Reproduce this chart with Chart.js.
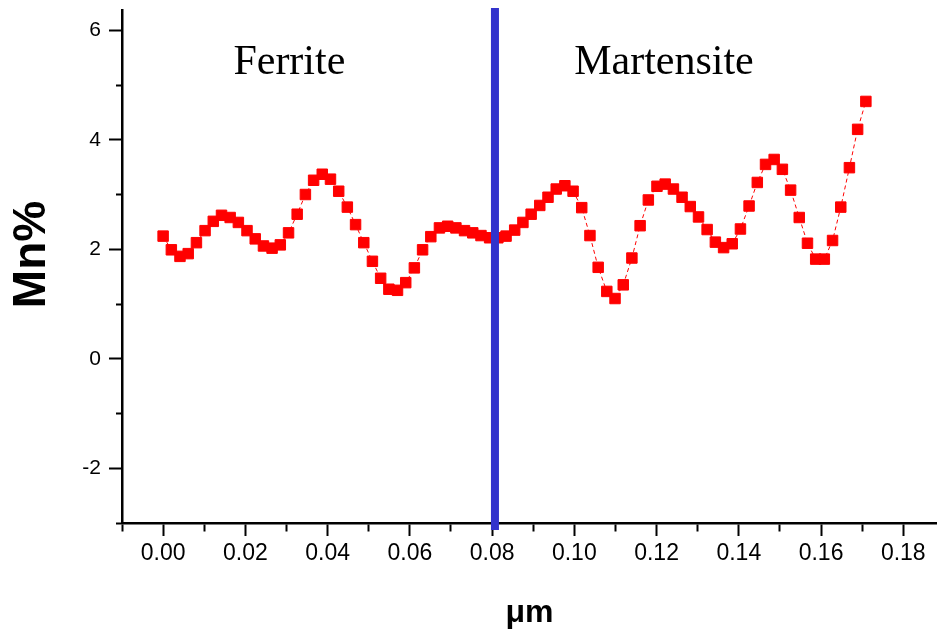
<!DOCTYPE html>
<html>
<head>
<meta charset="utf-8">
<script src="https://cdn.jsdelivr.net/npm/chart.js@4.4.1/dist/chart.umd.min.js"></script>
<style>
  html, body { margin: 0; padding: 0; background: #ffffff; }
  #wrap { width: 937px; height: 635px; }
</style>
</head>
<body>
<div id="wrap"><canvas id="c" width="937" height="635"></canvas></div>
<script>
// Mn concentration profile across the ferrite / martensite interface
const distanceUm = [
  0.0000, 0.0020, 0.0041, 0.0061, 0.0081, 0.0102, 0.0122, 0.0142, 0.0163, 0.0183,
  0.0204, 0.0224, 0.0244, 0.0265, 0.0285, 0.0305, 0.0326, 0.0346, 0.0366, 0.0387,
  0.0407, 0.0427, 0.0448, 0.0468, 0.0488, 0.0509, 0.0529, 0.0549, 0.0570, 0.0590,
  0.0611, 0.0631, 0.0651, 0.0672, 0.0692, 0.0712, 0.0733, 0.0753, 0.0773, 0.0794,
  0.0814, 0.0834, 0.0855, 0.0875, 0.0895, 0.0916, 0.0936, 0.0956, 0.0977, 0.0997,
  0.1018, 0.1038, 0.1058, 0.1079, 0.1099, 0.1119, 0.1140, 0.1160, 0.1180, 0.1201,
  0.1221, 0.1241, 0.1262, 0.1282, 0.1302, 0.1323, 0.1343, 0.1363, 0.1384, 0.1404,
  0.1425, 0.1445, 0.1465, 0.1486, 0.1506, 0.1526, 0.1547, 0.1567, 0.1587, 0.1608,
  0.1628, 0.1648, 0.1669, 0.1689, 0.1709
];
const mnPercent = [
  2.24, 1.99, 1.87, 1.92, 2.12, 2.34, 2.51, 2.62, 2.58, 2.49,
  2.34, 2.19, 2.06, 2.02, 2.08, 2.30, 2.64, 3.00, 3.26, 3.37,
  3.28, 3.06, 2.77, 2.45, 2.12, 1.78, 1.47, 1.27, 1.25, 1.39,
  1.66, 1.99, 2.23, 2.39, 2.42, 2.39, 2.34, 2.30, 2.25, 2.21,
  2.21, 2.24, 2.35, 2.49, 2.64, 2.80, 2.95, 3.10, 3.16, 3.06,
  2.76, 2.25, 1.67, 1.23, 1.10, 1.35, 1.84, 2.43, 2.90, 3.15,
  3.19, 3.10, 2.95, 2.78, 2.59, 2.36, 2.13, 2.03, 2.10, 2.37,
  2.79, 3.22, 3.55, 3.64, 3.46, 3.08, 2.58, 2.11, 1.82, 1.82,
  2.16, 2.77, 3.49, 4.19, 4.70
];

// Phase boundary and phase names
const boundaryX = 0.0807;
const phaseLabels = ['Ferrite', 'Martensite'];
const phaseLabelX = [0.0307, 0.1218];
const phaseLabelY = [5.40, 5.40];
const yTitle = 'Mn%';

const points = distanceUm.map((x, i) => ({ x: x, y: mnPercent[i] }));

const isMajorX = v => Math.round(v * 100) % 2 === 0;
const isMajorY = v => Math.round(v) % 2 === 0;
const sansFamily = '"Liberation Sans", Arial, sans-serif';

const phasePlugin = {
  id: 'phaseBoundary',
  afterDatasetsDraw(chart) {
    const { ctx, chartArea, scales } = chart;
    const xs = scales.x, ys = scales.y;
    ctx.save();
    // interface line
    const bx = xs.getPixelForValue(boundaryX);
    ctx.strokeStyle = '#3333cc';
    ctx.lineWidth = 8;
    ctx.beginPath();
    ctx.moveTo(bx, chartArea.top - 2);
    ctx.lineTo(bx, chartArea.bottom + 7);
    ctx.stroke();
    // phase names
    ctx.fillStyle = '#000000';
    ctx.font = '42px "Liberation Serif", "Times New Roman", serif';
    ctx.textAlign = 'center';
    ctx.textBaseline = 'middle';
    phaseLabels.forEach((t, i) => {
      ctx.fillText(t, xs.getPixelForValue(phaseLabelX[i]), ys.getPixelForValue(phaseLabelY[i]));
    });
    // vertical axis title
    ctx.translate(32, (chartArea.top + chartArea.bottom) / 2 - 12);
    ctx.rotate(-Math.PI / 2);
    ctx.font = 'bold 46px ' + sansFamily;
    ctx.fillText(yTitle, 0, 0);
    ctx.restore();
  }
};

new Chart(document.getElementById('c'), {
  type: 'scatter',
  data: {
    datasets: [{
      data: points,
      showLine: true,
      borderColor: '#ff0000',
      borderWidth: 1,
      borderDash: [4, 3],
      pointStyle: 'rect',
      pointRadius: 7.4,
      pointHoverRadius: 7.4,
      pointBackgroundColor: '#ff0000',
      pointBorderColor: '#ff0000',
      pointBorderWidth: 1
    }]
  },
  options: {
    responsive: false,
    animation: false,
    devicePixelRatio: 1,
    layout: { autoPadding: false, padding: { top: 10, right: 0, bottom: 0, left: 0 } },
    plugins: { legend: { display: false }, tooltip: { enabled: false } },
    scales: {
      x: {
        type: 'linear',
        min: -0.01,
        max: 0.1882,
        afterBuildTicks: s => { s.ticks = s.ticks.filter(t => Math.abs(t.value * 100 - Math.round(t.value * 100)) < 1e-6); },
        afterFit: s => { s.height = 112; s.paddingLeft = 0; s.paddingRight = 0; },
        border: { display: true, color: '#000000', width: 2.5 },
        grid: {
          drawOnChartArea: false,
          drawTicks: true,
          tickLength: 13,
          tickWidth: 2,
          tickColor: '#000000',
          tickBorderDash: ctx => (ctx.tick && isMajorX(ctx.tick.value)) ? [] : [7, 100]
        },
        ticks: {
          stepSize: 0.01,
          includeBounds: false,
          autoSkip: false,
          maxRotation: 0,
          padding: 4,
          color: '#000000',
          font: { family: sansFamily, size: 23 },
          callback: v => isMajorX(v) ? Math.abs(v).toFixed(2) : ''
        },
        title: {
          display: true,
          text: 'μm',
          color: '#000000',
          font: { family: sansFamily, size: 32, weight: 'bold', lineHeight: 1 },
          padding: { top: 0, bottom: 6 }
        }
      },
      y: {
        type: 'linear',
        min: -3,
        max: 6.37,
        afterBuildTicks: s => { s.ticks = s.ticks.filter(t => Math.abs(t.value - Math.round(t.value)) < 1e-6); },
        afterFit: s => { s.width = 122; s.paddingTop = 0; s.paddingBottom = 0; },
        border: { display: true, color: '#000000', width: 2.5 },
        grid: {
          drawOnChartArea: false,
          drawTicks: true,
          tickLength: 13,
          tickWidth: 2,
          tickColor: '#000000',
          tickBorderDash: ctx => (ctx.tick && isMajorY(ctx.tick.value)) ? [] : [0, 7, 6, 100]
        },
        ticks: {
          stepSize: 1,
          includeBounds: false,
          autoSkip: false,
          padding: 8,
          color: '#000000',
          font: { family: sansFamily, size: 21 },
          callback: v => isMajorY(v) ? String(Math.round(v)) : ''
        },
        title: { display: false }
      }
    }
  },
  plugins: [phasePlugin]
});
</script>
</body>
</html>
